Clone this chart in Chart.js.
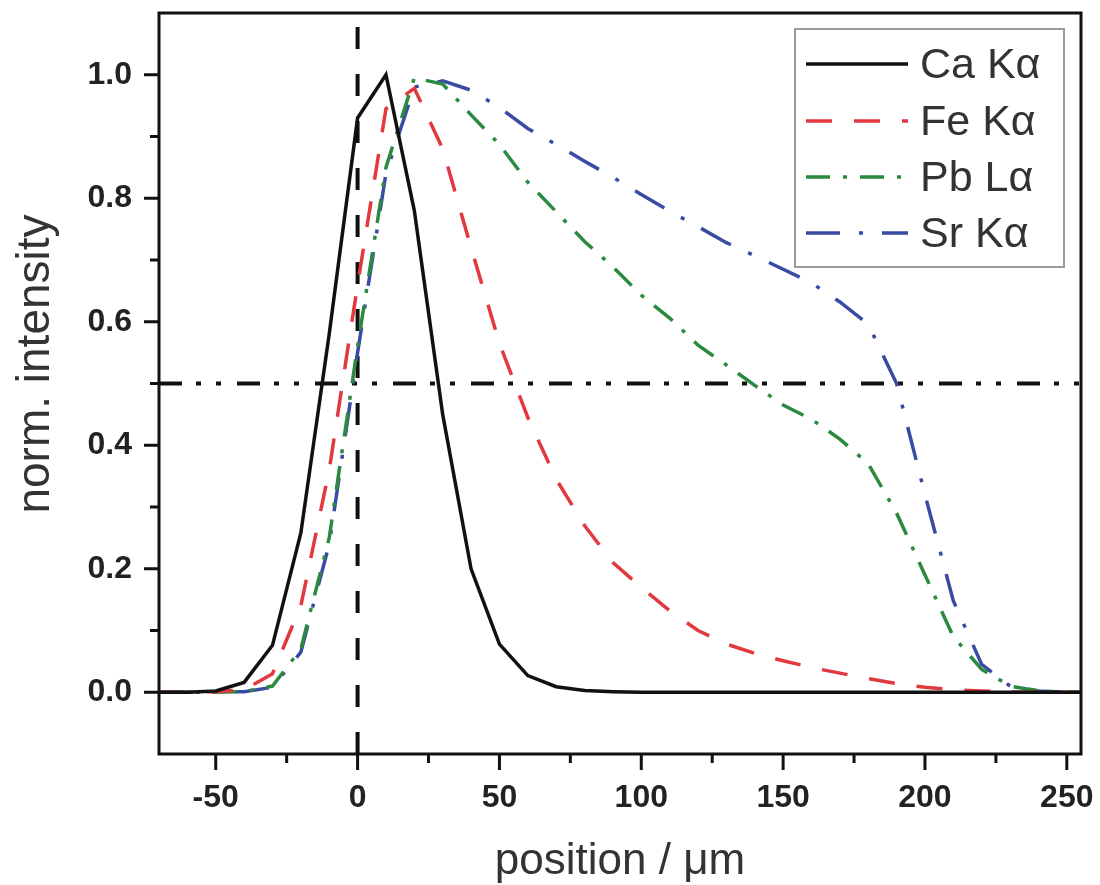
<!DOCTYPE html>
<html>
<head>
<meta charset="utf-8">
<script src="https://cdn.jsdelivr.net/npm/chart.js@4.4.1/dist/chart.umd.min.js"></script>
<style>
  html, body { margin: 0; padding: 0; background: #fff; }
  #wrap { width: 1100px; height: 885px; }
</style>
</head>
<body>
<div id="wrap"><canvas id="profile" width="1100" height="885"></canvas></div>
<script>
// positions in µm, intensities normalised to the maximum of each line
const positions = [-70, -60, -50, -40, -30, -20, -10, 0, 10, 20, 30, 40, 50, 60, 70, 80, 90,
  100, 110, 120, 130, 140, 150, 160, 170, 180, 190, 200, 210, 220, 230, 240, 250, 255];

const caKa = [0, 0, 0.002, 0.016, 0.076, 0.258, 0.58, 0.93, 1.0, 0.78, 0.45, 0.2, 0.078, 0.027, 0.009, 0.003, 0.001,
  0, 0, 0, 0, 0, 0, 0, 0, 0, 0, 0, 0, 0, 0, 0, 0, 0];
const feKa = [0, 0, 0.001, 0.004, 0.03, 0.14, 0.36, 0.66, 0.945, 0.978, 0.88, 0.72, 0.565, 0.445, 0.345, 0.27, 0.21,
  0.17, 0.132, 0.1, 0.078, 0.063, 0.051, 0.04, 0.031, 0.022, 0.014, 0.008, 0.004, 0.002, 0.0005, 0, 0, 0];
const pbLa = [0, 0, 0, 0.001, 0.01, 0.07, 0.25, 0.56, 0.85, 0.995, 0.985, 0.935, 0.887, 0.826, 0.778, 0.73, 0.689,
  0.643, 0.606, 0.562, 0.53, 0.497, 0.465, 0.442, 0.41, 0.37, 0.29, 0.19, 0.09, 0.037, 0.01, 0.002, 0, 0];
const srKa = [0, 0, 0, 0.001, 0.008, 0.065, 0.24, 0.55, 0.84, 0.98, 0.99, 0.975, 0.947, 0.913, 0.887, 0.86, 0.834,
  0.806, 0.779, 0.754, 0.728, 0.707, 0.685, 0.663, 0.632, 0.596, 0.5, 0.32, 0.148, 0.045, 0.01, 0.002, 0, 0];

const seriesNames = ["Ca K\u03b1", "Fe K\u03b1", "Pb L\u03b1", "Sr K\u03b1"];

const xRange = [-70, 255];
const yRange = [-0.1, 1.1];
const xTicks = [-50, 0, 50, 100, 150, 200, 250];
const xMinorTicks = [-25, 25, 75, 125, 175, 225];
const yTicks = [0.0, 0.2, 0.4, 0.6, 0.8, 1.0];
const yMinorTicks = [0.1, 0.3, 0.5, 0.7, 0.9];

// guide lines: the surface position and the half-maximum level
const surfacePosition = 0;
const halfMaximum = 0.5;

const FONT = "'Liberation Sans', Arial, sans-serif";

function toPoints(values) {
  return positions.map((x, i) => ({ x, y: values[i] }));
}

function curve(label, values, color, dash) {
  return {
    label,
    data: toPoints(values),
    borderColor: color,
    borderWidth: 3.5,
    borderDash: dash,
    pointRadius: 0,
    tension: 0,
    fill: false,
    inLegend: true
  };
}

const datasets = [
  curve(seriesNames[0], caKa, "#111111", []),
  curve(seriesNames[1], feKa, "#e2393e", [26, 22]),
  curve(seriesNames[2], pbLa, "#2b8a40", [24, 13, 4, 13]),
  curve(seriesNames[3], srKa, "#3a4ba3", [34, 19, 4, 19]),
  {
    label: "surface",
    data: [{ x: surfacePosition, y: yRange[0] }, { x: surfacePosition, y: yRange[1] }],
    borderColor: "#111", borderWidth: 4, borderDash: [22, 25], pointRadius: 0
  },
  {
    label: "half maximum",
    data: [{ x: xRange[0], y: halfMaximum }, { x: xRange[1], y: halfMaximum }],
    borderColor: "#111", borderWidth: 4, borderDash: [23, 14, 5, 15, 5, 16], pointRadius: 0
  }
];

// keep the plot box where the layout padding puts it
function noLabelPadding(s) {
  s.paddingTop = 0;
  s.paddingBottom = 0;
  s.paddingLeft = 0;
  s.paddingRight = 0;
}

// frame, outward ticks, y title and the boxed legend
const decor = {
  id: "decor",
  afterDraw(chart) {
    const { ctx, chartArea: a, scales: { x, y } } = chart;
    ctx.save();
    ctx.strokeStyle = "#111";
    ctx.lineWidth = 3;
    ctx.strokeRect(a.left, a.top, a.right - a.left, a.bottom - a.top);
    ctx.beginPath();
    xTicks.forEach(v => { const p = x.getPixelForValue(v); ctx.moveTo(p, a.bottom); ctx.lineTo(p, a.bottom + 16); });
    xMinorTicks.forEach(v => { const p = x.getPixelForValue(v); ctx.moveTo(p, a.bottom); ctx.lineTo(p, a.bottom + 9); });
    yTicks.forEach(v => { const p = y.getPixelForValue(v); ctx.moveTo(a.left, p); ctx.lineTo(a.left - 15, p); });
    yMinorTicks.forEach(v => { const p = y.getPixelForValue(v); ctx.moveTo(a.left, p); ctx.lineTo(a.left - 9, p); });
    ctx.stroke();

    // y title sits a little above the middle of the axis
    ctx.save();
    ctx.translate(36, 364);
    ctx.rotate(-Math.PI / 2);
    ctx.font = "46px " + FONT;
    ctx.fillStyle = "#333";
    ctx.textAlign = "center";
    ctx.textBaseline = "middle";
    ctx.fillText("norm. intensity", 0, 0);
    ctx.restore();

    // legend
    const box = { left: 795, top: 29, right: 1064, bottom: 267 };
    ctx.fillStyle = "#fff";
    ctx.fillRect(box.left, box.top, box.right - box.left, box.bottom - box.top);
    ctx.strokeStyle = "#9a9a9a";
    ctx.lineWidth = 2;
    ctx.strokeRect(box.left, box.top, box.right - box.left, box.bottom - box.top);
    const rows = [64, 121, 177, 233];
    ctx.font = "43px " + FONT;
    ctx.textBaseline = "middle";
    ctx.textAlign = "left";
    chart.data.datasets.filter(d => d.inLegend).forEach((d, i) => {
      ctx.beginPath();
      ctx.setLineDash(d.borderDash);
      ctx.strokeStyle = d.borderColor;
      ctx.lineWidth = 3.5;
      ctx.moveTo(806, rows[i]);
      ctx.lineTo(908, rows[i]);
      ctx.stroke();
      ctx.setLineDash([]);
      ctx.fillStyle = "#333";
      ctx.fillText(d.label, 920, rows[i] + 2);
    });
    ctx.restore();
  }
};

new Chart(document.getElementById("profile"), {
  type: "line",
  data: { datasets },
  plugins: [decor],
  options: {
    responsive: false,
    animation: false,
    layout: { padding: { top: 13, right: 19, left: 0, bottom: 0 } },
    plugins: { legend: { display: false }, tooltip: { enabled: false } },
    scales: {
      x: {
        type: "linear",
        min: xRange[0],
        max: xRange[1],
        afterBuildTicks: s => { s.ticks = xTicks.map(v => ({ value: v })); },
        afterFit: s => { s.height = 131; noLabelPadding(s); },
        grid: { display: false, drawTicks: false },
        border: { display: false },
        ticks: {
          autoSkip: false, maxRotation: 0, padding: 25, color: "#222",
          font: { family: FONT, size: 32, weight: "bold" },
          callback: v => String(v)
        },
        title: {
          display: true, text: "position / \u03bcm", color: "#333",
          font: { family: FONT, size: 44 }, padding: { top: 0, bottom: -3 }
        }
      },
      y: {
        type: "linear",
        min: yRange[0],
        max: yRange[1],
        afterBuildTicks: s => { s.ticks = yTicks.map(v => ({ value: v })); },
        afterFit: s => { s.width = 159; noLabelPadding(s); },
        grid: { display: false, drawTicks: false },
        border: { display: false },
        ticks: {
          autoSkip: false, padding: 27, color: "#222",
          font: { family: FONT, size: 32, weight: "bold" },
          callback: v => v.toFixed(1)
        },
        title: { display: false }
      }
    }
  }
});
</script>
</body>
</html>
